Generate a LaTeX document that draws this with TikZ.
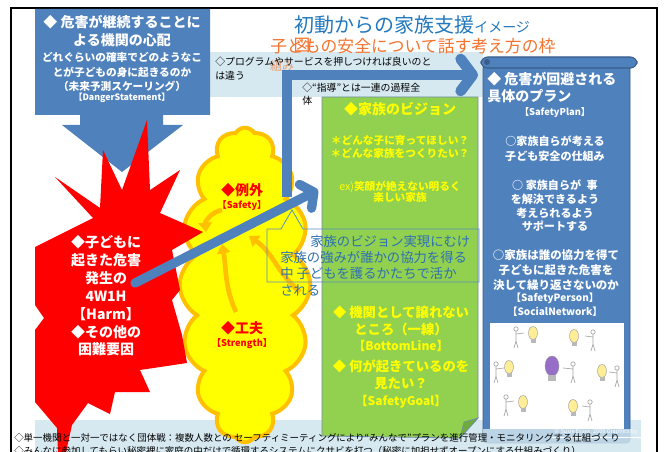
\documentclass[tikz,border=0pt]{standalone}
\usepackage{fontspec}
\setmainfont{Noto Sans CJK JP}
\usetikzlibrary{shapes.symbols,arrows.meta}
\definecolor{planblue}{RGB}{79,129,189}
\definecolor{planedge}{RGB}{56,93,138}
\definecolor{harmred}{RGB}{255,0,0}
\definecolor{sun}{RGB}{255,255,0}
\definecolor{gold}{RGB}{255,192,0}
\definecolor{leaf}{RGB}{146,208,80}
\definecolor{leafdark}{RGB}{110,170,60}
\definecolor{mist}{RGB}{214,233,241}
\definecolor{headblue}{RGB}{35,120,190}
\definecolor{headorange}{RGB}{245,115,45}
\definecolor{noteblue}{RGB}{46,112,178}
\definecolor{bulbglow}{RGB}{255,238,150}
\definecolor{bulbviolet}{RGB}{150,110,200}
\newcommand\sz[2]{\fontsize{#1}{#2}\selectfont}
% a small light bulb: x, y, colour
\newcommand\lamp[3]{%
  \fill[#3, draw=gray!80, line width=0.3] (#1,#2) ellipse (4.5 and 6.5);
  \fill[gray!55] (#1-2.5,#2+6) rectangle (#1+2.5,#2+10);
}
% a stick figure pointing at a bulb: x, y, arm offset
\newcommand\walker[3]{%
  \draw[gray!70, line width=0.5] (#1,#2-9) circle (2.2)
     (#1,#2-6.5) -- (#1,#2+3) -- (#1-2,#2+10) (#1,#2+3) -- (#1+2,#2+10)
     (#1,#2-4) -- ++(#3,-1);
}
\begin{document}
\begin{tikzpicture}[x=0.75pt,y=-0.75pt,
  lbl/.style={inner sep=0, align=center},
  wbold/.style={lbl, text=white, font=\bfseries#1},
  ybold/.style={lbl, text=sun, font=\bfseries#1},
  rbold/.style={lbl, text=harmred, font=\bfseries#1},
  note/.style={inner sep=0, anchor=west, text=black, font=#1},
  thickarrow/.style={draw=planblue, line width=#1},
  goldarrow/.style={draw=gold, line width=3.5, -{Triangle[length=7pt,width=10pt]}},
]
\path[use as bounding box, fill=white] (0,0) rectangle (666,452);

% light bands behind the notes
\fill[mist] (210,52) rectangle (483,97);
\fill[mist] (35,420) rectangle (641,452);

% page frame
\draw[line width=1.6pt] (11,452) -- (11,8) -- (657,8) -- (657,452);

% heading
\node[inner sep=0, anchor=west, text=headblue] (title) at (294,25)
  {{\sz{15}{15}初動からの家族支援}{\sz{10.5}{10.5}イメージ}};
\node[inner sep=0, anchor=west, text=headorange, font=\sz{12.6}{13}] (subtitle) at (270,46)
  {子どもの安全について話す考え方の枠};
\node[inner sep=0, text=headorange, font=\sz{12.6}{13}] (subtitle-b) at (302,45) {図};
\node[inner sep=0, text=headorange, opacity=.65, font=\sz{9}{9}] (subtitle-c) at (282,66) {組み};

% worry arrow (danger statement)
\path[fill=planblue] (35,9) -- (210,9) -- (210,115) -- (163,115) -- (163,125) -- (183,125)
  -- (122,172) -- (62,125) -- (80,125) -- (80,115) -- (35,115) -- cycle;
\node[wbold={\sz{10.5}{13.5}}] (worry) at (122,31) {◆ 危害が継続することに\\よる機関の心配};
\node[wbold={\sz{8}{10.9}}] (worry-b) at (122,72)
  {どれぐらいの確率でどのようなこ\\とが子どもの身に起きるのか\\（未来予測スケーリング）};
\node[wbold={\sz{6.6}{7}}] (worry-c) at (122,98) {【DangerStatement】};

% strengths cloud
\node[cloud, draw=gold, fill=sun, line width=3, cloud puffs=16, cloud puff arc=120,
  aspect=0.45, minimum width=98pt, minimum height=236pt, inner sep=0] (cloud) at (245,285) {};
\draw[goldarrow] (222,210) to[out=190,in=95] (206,232);
\draw[goldarrow] (236,312) to[out=115,in=-80] (222,244);
\draw[goldarrow] (300,292) to[out=140,in=-35] (249,236);
\node[rbold={\sz{10.5}{11}}] (exception) at (242,190) {◆例外};
\node[rbold={\sz{7}{8}}] (exception-b) at (242,206) {【Safety】};
\node[rbold={\sz{10.5}{11}}] (strength) at (242,328) {◆工夫};
\node[rbold={\sz{7}{8}}] (strength-b) at (242,344) {【Strength】};

% harm burst, lying over the cloud's left edge
\path[fill=harmred] (147,120) -- (150,190) -- (180,170) -- (160,213) -- (203,232) -- (172,250)
  -- (180,290) -- (172,300) -- (182,335) -- (187,363) -- (140,370) -- (150,392) -- (115,392)
  -- (110,414) -- (88,403) -- (72,425) -- (66,452) -- (58,452) -- (57,428) -- (35,402)
  -- (35,330) -- (44,318) -- (35,305) -- (35,247) -- (93,218) -- (55,177) -- (100,208)
  -- (103,150) -- (122,190) -- cycle;
\node[wbold={\sz{10.5}{13.4}}] (harm) at (106,296)
  {◆子どもに\\起きた危害\\発生の\\4W1H\\【Harm】\\◆その他の\\困難要因};

% family vision panel
\path[fill=leaf, draw=planedge!70, line width=0.6] (322,97) -- (478,97) -- (478,418)
  -- (460,438) -- (322,436) -- cycle;
\path[fill=leafdark, draw=planedge!70, line width=0.5] (460,438) -- (464,422) -- (478,418) -- cycle;
\node[ybold={\sz{10.5}{12}}] (vision) at (400,109) {◆家族のビジョン};
\node[ybold={\sz{8}{9.8}}] (vision-b) at (400,147) {＊どんな子に育ってほしい？\\＊どんな家族をつくりたい？};
\node[ybold={\sz{8}{8.6}}] (vision-c) at (400,192) {{\mdseries ex)}笑顔が絶えない明るく\\楽しい家族};
\node[ybold={\sz{10}{12.5}}] (line) at (401,329) {◆ 機関として譲れない\\ところ（一線）\\{\sz{9}{12.5}【BottomLine】}};
\node[ybold={\sz{10}{12.5}}] (goal) at (401,384) {◆ 何が起きているのを\\見たい？\\{\sz{9}{12.5}【SafetyGoal】}};

% safety plan scroll
\path[fill=planblue, draw=planedge, line width=0.6, rounded corners=3] (483,64) rectangle (630,443);
\path[fill=planblue, draw=planedge, line width=0.8, rounded corners=5] (481,57) rectangle (637,68);
\fill[planedge] (487,62) circle (3);
\node[wbold={\sz{10.5}{12.8}}, anchor=north west, align=left] (plan) at (487,72)
  {◆ 危害が回避される\\具体のプラン};
\node[wbold={\sz{7}{8}}] (plan-b) at (555,113) {【SafetyPlan】};
\node[wbold={\sz{8.3}{11}}] (plan-c) at (555,149) {○家族自らが考える\\子ども安全の仕組み};
\node[wbold={\sz{8.3}{10.3}}] (plan-d) at (555,206) {○ 家族自らが\enspace 事\\を解決できるよう\\考えられるよう\\サポートする};
\node[wbold={\sz{8.6}{11}}] (plan-e) at (556,270) {○家族は誰の協力を得て\\子どもに起きた危害を\\決して繰り返さないのか};
\node[wbold={\sz{7.5}{10.5}}] (plan-f) at (555,305) {【SafetyPerson】\\【SocialNetwork】};

% network picture
\fill[white] (490,323) rectangle (624,429);
\lamp{533}{333}{bulbglow} \walker{516}{338}{8}
\lamp{574}{336}{bulbglow} \walker{593}{341}{-8}
\lamp{509}{367}{bulbglow} \walker{496}{373}{8}
\fill[bulbviolet, draw=gray!80, line width=0.3] (552,366) ellipse (7 and 10);
\fill[gray!55] (548,375) rectangle (556,381);
\walker{573}{373}{-10}
\lamp{602}{371}{bulbglow} \walker{617}{377}{-8}
\lamp{523}{402}{bulbglow} \walker{506}{406}{8}
\lamp{573}{406}{bulbglow} \walker{590}{411}{-8}

% the band runs over the foot of the scroll
\fill[mist, opacity=.8] (483,429) rectangle (641,452);
\node[inner sep=0, text=white, font=\sz{4.2}{5}] (credit) at (596,432) {© Susie Essex, 2008 Graphics by};
\draw[white, line width=0.6] (552,437) -- (641,437);

% notes on the upper band
\node[note={\sz{7.4}{9}}] (note-a) at (215,62) {◇プログラムやサービスを押しつければ良いのと};
\node[note={\sz{7.4}{9}}] (note-b) at (215,76) {は違う};
\node[note={\sz{7.4}{9}}] (note-c) at (302,88) {◇“指導”とは一連の過程全};
\node[note={\sz{7.4}{9}}] (note-d) at (302,101) {体};

% process arrow toward the plan
\coordinate (bend-foot) at (287,197);
\coordinate (bend-corner) at (287,75);
\coordinate (bend-tip) at (478,75);
\draw[thickarrow=8, -{Straight Barb[length=9pt,width=24pt,round]}] (bend-foot) -- (bend-corner) -- (bend-tip);

% arrow from harm toward the vision
\coordinate (harm-c) at (135,283);
\coordinate (vision-in) at (318,190);
\draw[thickarrow=7, line cap=round, -{Straight Barb[length=7pt,width=20pt,round]}] (harm-c) -- (vision-in);

% call-out on the vision
\draw[draw=noteblue!80, line width=0.6] (267,229) -- (281,229) -- (292,210) -- (303,229)
  -- (479,229) -- (479,282) -- (267,282) -- cycle;
\node[inner sep=0, anchor=west, text=noteblue, font=\sz{10}{12}] (call-a) at (310,241) {家族のビジョン実現にむけ};
\node[inner sep=0, anchor=west, text=noteblue, font=\sz{10}{12}] (call-b) at (280,257) {家族の強みが誰かの協力を得る};
\node[inner sep=0, anchor=west, text=noteblue, font=\sz{10}{12}] (call-c) at (280,273) {中 子どもを護るかたちで活か};
\node[inner sep=0, anchor=west, text=noteblue, font=\sz{10}{12}] (call-d) at (280,290) {される};

% notes on the lower band
\node[note={\sz{7.1}{9}}] (foot-a) at (14,438)
  {◇単一機関と一対一ではなく団体戦：複数人数との セーフティミーティングにより“みんなで”プランを進行管理・モニタリングする仕組づくり};
\node[note={\sz{7.1}{9}}] (foot-b) at (14,451)
  {◇みんなに参加してもらい秘密裡に家庭の中だけで循環するシステムにクサビを打つ（秘密に加担せずオープンにする仕組みづくり）};
\end{tikzpicture}
\end{document}
